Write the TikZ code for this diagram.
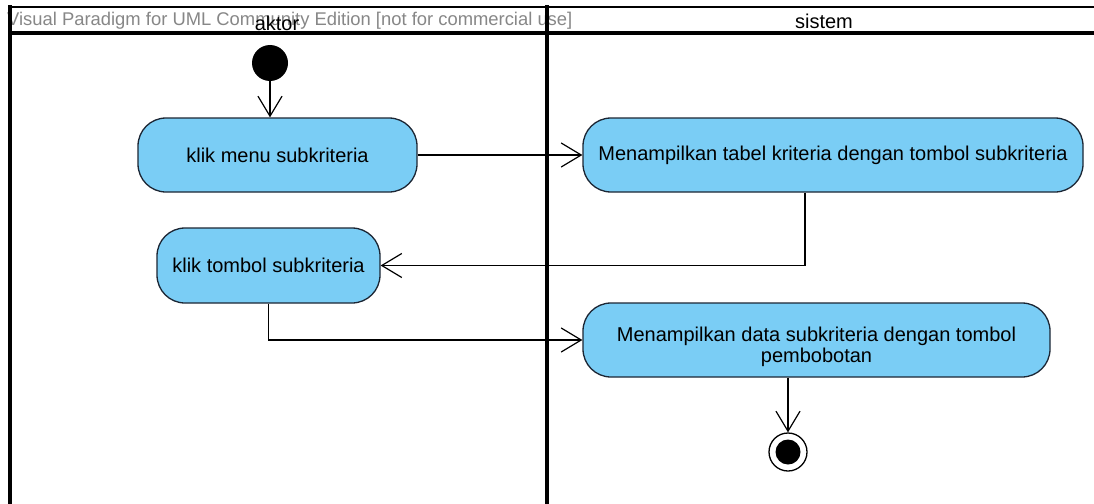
\documentclass[tikz,border=0pt]{standalone}
\usepackage{fontspec}
\setmainfont{Liberation Sans}
\usetikzlibrary{arrows.meta}

\definecolor{actfill}{RGB}{122,205,245}
\definecolor{actline}{RGB}{28,38,52}
\definecolor{vpgray}{RGB}{135,135,135}

\begin{document}
\begin{tikzpicture}[x=1pt, y=-1pt,
  action/.style={draw=actline, line width=1.3pt, fill=actfill,
    rounded corners=28pt, inner sep=0pt, align=center,
    font=\fontsize{20}{21}\selectfont, text=black},
  lbl/.style={inner sep=0pt, align=center, font=\fontsize{20}{21}\selectfont, text=black},
  flow/.style={draw=black, line width=1.2pt,
    -{Straight Barb[length=20pt, width=24pt]}},
  thinrule/.style={draw=black, line width=1.5pt},
  lanerule/.style={draw=black, line width=3.5pt},
  header/.style={anchor=base, inner sep=0pt, font=\fontsize{20}{21}\selectfont},
  initial/.style={circle, fill=black, minimum size=36pt, inner sep=0pt},
  final/.style={circle, draw=black, line width=1.3pt, fill=white,
    minimum size=38pt, inner sep=0pt,
    path picture={\fill[black] (path picture bounding box.center) circle (12.5pt);}}
]
\useasboundingbox (0,0) rectangle (1094,503);
\fill[white] (0,0) rectangle (1094,503);

% editor banner in the header row
\node[anchor=base west, inner sep=0pt, text=vpgray,
      font=\fontsize{18.4}{20}\selectfont] (banner) at (7,26)
  {Visual Paradigm for UML Community Edition [not for commercial use]};

% swimlane headers
\node[header] (aktor) at (277,31) {aktor};
\node[header] (sistem) at (824,29) {sistem};

% swimlane frame
\draw[thinrule] (8,7) -- (1100,7);
\draw[lanerule] (8,33) -- (1100,33);
\draw[lanerule] (10,5.5) -- (10,510);
\draw[lanerule] (547,5.5) -- (547,510);

% actions
\node[initial] (start) at (270,63) {};
\node[action, minimum width=279pt, minimum height=74pt] (n1) at (277.5,155)
  {klik menu subkriteria};
\node[action, minimum width=500pt, minimum height=74pt] (n2) at (833,155)
  {Menampilkan tabel kriteria dengan tombol subkriteria};
\node[action, minimum width=223pt, minimum height=75pt] (n3) at (268.5,265.5)
  {klik tombol subkriteria};
\node[action, minimum width=467pt, minimum height=74pt] (n4) at (816.5,340) {};
\node[lbl] (n4text) at (816.5,347)
  {Menampilkan data subkriteria dengan tombol\\pembobotan};
\node[final] (end) at (788,452) {};

% control flows
\draw[flow] (start) -- (start |- n1.north);
\draw[flow] (n1.east) -- (n2.west);
\draw[flow] ([xshift=-28pt]n2.south) |- (n3.east);
\draw[flow] (n3.south) |- (n4.west);
\draw[flow] ([xshift=-28.5pt]n4.south) -- (end.north);
\end{tikzpicture}
\end{document}
